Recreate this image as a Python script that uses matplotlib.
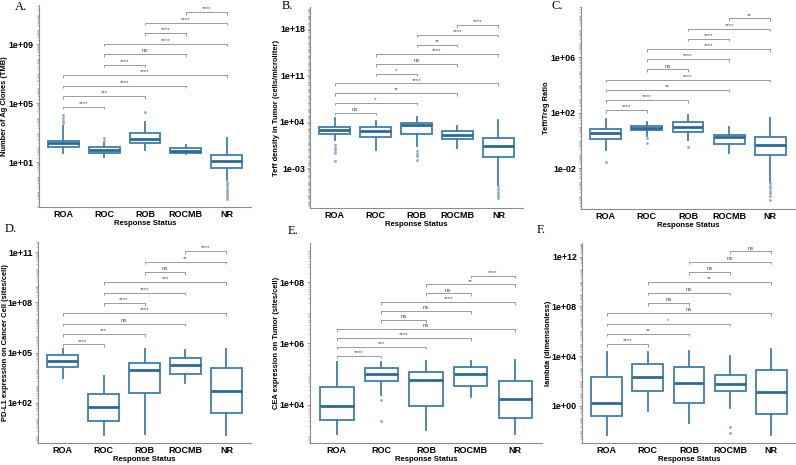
import numpy as np
import matplotlib
matplotlib.use("Agg")
import matplotlib.pyplot as plt
from matplotlib.ticker import FixedLocator, FuncFormatter, NullFormatter

plt.rcParams['font.family'] = ['Liberation Sans', 'DejaVu Sans']

groups = ['ROA', 'ROC', 'ROB', 'ROCMB', 'NR']
pairs = [(0, 1), (0, 2), (0, 3), (0, 4), (1, 2), (1, 3), (1, 4), (2, 3), (2, 4), (3, 4)]

# ---- values are log10 of the quantity ----
# Panel A: Number of Ag Clones (TMB)
a_whislo = [1.65, 1.38, 1.83, 1.55, -0.2]
a_q1 = [2.05, 1.60, 2.33, 1.60, 0.63]
a_med = [2.33, 1.80, 2.60, 1.76, 1.08]
a_q3 = [2.44, 2.05, 2.96, 1.94, 1.47]
a_whishi = [3.46, 2.28, 3.75, 2.17, 2.62]
a_fliers = [[3.64, 3.80, 3.98, 4.20], [2.46, 2.62], [4.43], [],
            [-0.35, -0.5, -0.65, -0.8, -0.95, -1.1, -1.25, -1.4, -1.5]]
a_sig = ['****', '***', '****', '****', '****', 'ns', '****', '****', '****', '****']

# Panel B: Teff density in Tumor
b_whislo = [1.3, -0.21, 0.3, 0.04, -5.5]
b_q1 = [2.1, 1.7, 2.1, 1.4, -1.37]
b_med = [2.8, 2.55, 3.45, 2.0, 0.3]
b_q3 = [3.2, 3.2, 3.75, 2.65, 1.55]
b_whishi = [4.55, 4.1, 4.7, 3.3, 4.3]
b_fliers = [[0.44, 0.04, -0.31, -0.72, -1.97], [], [-0.46, -0.8, -1.2, -1.82], [],
            [-5.73, -6.1, -6.5, -6.84, -7.14, -7.5]]
b_sig = ['ns', '*', '**', '****', '*', 'ns', '****', '**', '****', '****']

# Panel C: Teff/Treg Ratio
c_whislo = [-0.68, 0.33, 0.04, -0.92, -2.97]
c_q1 = [0.11, 0.76, 0.64, -0.25, -1.07]
c_med = [0.52, 0.93, 1.0, 0.25, -0.32]
c_q3 = [0.81, 1.02, 1.31, 0.37, 0.25]
c_whishi = [1.55, 1.36, 1.84, 1.0, 1.6]
c_fliers = [[-1.57], [0.16, -0.15], [-0.44], [],
            [-3.09, -3.28, -3.45, -3.62, -3.8, -4.0, -4.29]]
c_sig = ['****', '****', '**', '****', 'ns', '****', '****', '****', '****', '**']

# Panel D: PD-L1 expression on Cancer Cell
d_whislo = [3.5, 0.04, 0.14, 3.2, 0.04]
d_q1 = [4.16, 0.88, 2.6, 3.74, 1.38]
d_med = [4.52, 1.74, 3.96, 4.24, 2.7]
d_q3 = [4.88, 2.5, 4.4, 4.7, 4.06]
d_whishi = [5.2, 3.6, 5.2, 5.14, 5.2]
d_fliers = [[], [], [], [], []]
d_sig = ['****', '***', 'ns', '****', '****', '****', '***', 'ns', '**', '****']

# Panel E: CEA expression on Tumor
e_whislo = [3.06, 4.33, 3.17, 4.27, 3.04]
e_q1 = [3.51, 4.79, 3.98, 4.62, 3.57]
e_med = [3.95, 5.0, 4.81, 5.0, 4.2]
e_q3 = [4.57, 5.2, 5.08, 5.25, 4.79]
e_whishi = [5.41, 5.41, 5.44, 5.43, 5.46]
e_fliers = [[], [4.16, 3.46], [], [], []]
e_sig = ['****', '***', '****', 'ns', 'ns', 'ns', '****', 'ns', '**', '****']

# Panel F: lambda
f_whislo = [-2.36, -0.4, -1.37, -0.21, -2.36]
f_q1 = [-0.8, 1.15, 0.24, 1.15, -0.7]
f_med = [0.24, 2.34, 1.83, 1.72, 1.07]
f_q3 = [2.31, 3.38, 3.09, 2.5, 2.85]
f_whishi = [4.3, 4.3, 4.43, 4.0, 4.56]
f_fliers = [[], [], [], [-1.7, -2.17], []]
f_sig = ['****', '**', '*', 'ns', 'ns', 'ns', '**', 'ns', 'ns', 'ns']

ylabels = ["Number of Ag Clones (TMB)",
           "Teff density in Tumor (cells/microliter)",
           "Teff/Treg Ratio",
           "PD-L1 expression on Cancer Cell (sites/cell)",
           "CEA expression on Tumor (sites/cell)",
           "lambda (dimensionless)"]
letters = ['A.', 'B.', 'C.', 'D.', 'E.', 'F.']
label_decades = [[1, 5, 9], [-3, 4, 11, 18], [-2, 2, 6], [2, 5, 8, 11], [4, 6, 8], [0, 4, 8, 12]]
ylims = [(-2.05, 11.67), (-8.98, 21.3), (-4.93, 9.63), (-0.41, 11.62), (2.76, 9.27), (-3.0, 13.1)]

# layout (pixels, top-left origin): left, right, top, bottom
W, H = 796, 465
rects = [(39, 251, 5, 207), (310, 523, 7, 208), (581, 795, 7, 209),
         (38, 251, 242, 443), (310, 542, 243, 443), (582, 796, 243, 443)]
ylabel_x = [5, 276.5, 546, 5.5, 276.5, 548.5]
letter_pos = [(15, 7), (282, 6), (552, 6), (5, 229), (288, 231), (537, 230)]

panels = [
    (a_whislo, a_q1, a_med, a_q3, a_whishi, a_fliers, a_sig),
    (b_whislo, b_q1, b_med, b_q3, b_whishi, b_fliers, b_sig),
    (c_whislo, c_q1, c_med, c_q3, c_whishi, c_fliers, c_sig),
    (d_whislo, d_q1, d_med, d_q3, d_whishi, d_fliers, d_sig),
    (e_whislo, e_q1, e_med, e_q3, e_whishi, e_fliers, e_sig),
    (f_whislo, f_q1, f_med, f_q3, f_whishi, f_fliers, f_sig),
]

BOX = '#3f7fab'
MED = '#2c6a96'
FLI = '#86aac6'
GREY = '#8c8c8c'

fig = plt.figure(figsize=(W / 100, H / 100), dpi=100)

fmt = FuncFormatter(lambda v, p: "1e{:+03d}".format(int(round(np.log10(v)))))

for k, (wlo, q1, med, q3, whi, fl, sig) in enumerate(panels):
    l, r, t, b = rects[k]
    ax = fig.add_axes([l / W, 1 - b / H, (r - l) / W, (b - t) / H])
    ax.set_yscale('log')
    stats = []
    for i in range(len(groups)):
        stats.append(dict(whislo=10 ** wlo[i], q1=10 ** q1[i], med=10 ** med[i],
                          q3=10 ** q3[i], whishi=10 ** whi[i],
                          fliers=10 ** np.array(fl[i], dtype=float)))
    ax.bxp(stats, positions=range(len(groups)), widths=0.75, patch_artist=True,
           showcaps=False,
           boxprops=dict(facecolor='white', edgecolor=BOX, linewidth=1.3),
           medianprops=dict(color=MED, linewidth=2.0, solid_capstyle='butt'),
           whiskerprops=dict(color=BOX, linewidth=1.3),
           flierprops=dict(marker='o', markersize=2.0, markerfacecolor=FLI,
                           markeredgecolor='none'))
    lo, hi = ylims[k]
    ax.set_ylim(10 ** lo, 10 ** hi)
    ax.set_xlim(-0.6, len(groups) - 0.4)

    # significance brackets
    allv = wlo + whi + [v for f in fl for v in f]
    dmin, dmax = min(allv), max(allv)
    rng = dmax - dmin
    start = dmax + 0.057 * rng
    step = 0.12 * rng
    tip = 0.013 * (hi - lo)
    for n, ((i, j), s) in enumerate(zip(pairs, sig)):
        yb = start + n * step
        ax.plot([i, i, j, j], [10 ** (yb - tip), 10 ** yb, 10 ** yb, 10 ** (yb - tip)],
                color='#9a9a9a', lw=0.7, solid_capstyle='butt')
        ax.annotate(s, xy=((i + j) / 2, 10 ** yb), xytext=(0, 1.3),
                    textcoords='offset points', ha='center', va='baseline',
                    fontsize=4.5, color='#555555')

    # axes styling
    for sp in ['top', 'right']:
        ax.spines[sp].set_visible(False)
    for sp in ['left', 'bottom']:
        ax.spines[sp].set_color(GREY)
        ax.spines[sp].set_linewidth(0.8)
    decs = np.arange(int(np.floor(lo)), int(np.ceil(hi)) + 1)
    minor = [d + np.log10(m) for d in decs for m in range(1, 10)
             if not (m == 1 and d in label_decades[k])]
    minor = [10 ** v for v in minor if lo <= v <= hi]
    ax.yaxis.set_major_locator(FixedLocator([10 ** d for d in label_decades[k]]))
    ax.yaxis.set_major_formatter(fmt)
    ax.yaxis.set_minor_locator(FixedLocator(minor))
    ax.yaxis.set_minor_formatter(NullFormatter())
    ax.tick_params(axis='y', which='major', length=2.5, width=0.6, color=GREY,
                   labelsize=6.4, pad=1.2)
    ax.tick_params(axis='y', which='minor', length=1.6, width=0.45, color='#9c9c9c')
    for lab in ax.get_yticklabels():
        lab.set_fontweight('bold')
    ax.set_xticks(range(len(groups)))
    ax.set_xticklabels(groups, fontweight='bold', fontsize=6.5)
    ax.tick_params(axis='x', length=0, pad=2.0)
    ax.set_xlabel('Response Status', fontweight='bold', fontsize=5.6, labelpad=1.0)
    ax.set_ylabel(ylabels[k], fontweight='bold', fontsize=5.4, va='center')
    ax.yaxis.set_label_coords((ylabel_x[k] - l) / (r - l), 0.5)

    lx, ly = letter_pos[k]
    fig.text(lx / W, 1 - ly / H, letters[k], family='Liberation Serif',
             fontsize=9, ha='left', va='center')

fig.savefig('out.png', dpi=100)
